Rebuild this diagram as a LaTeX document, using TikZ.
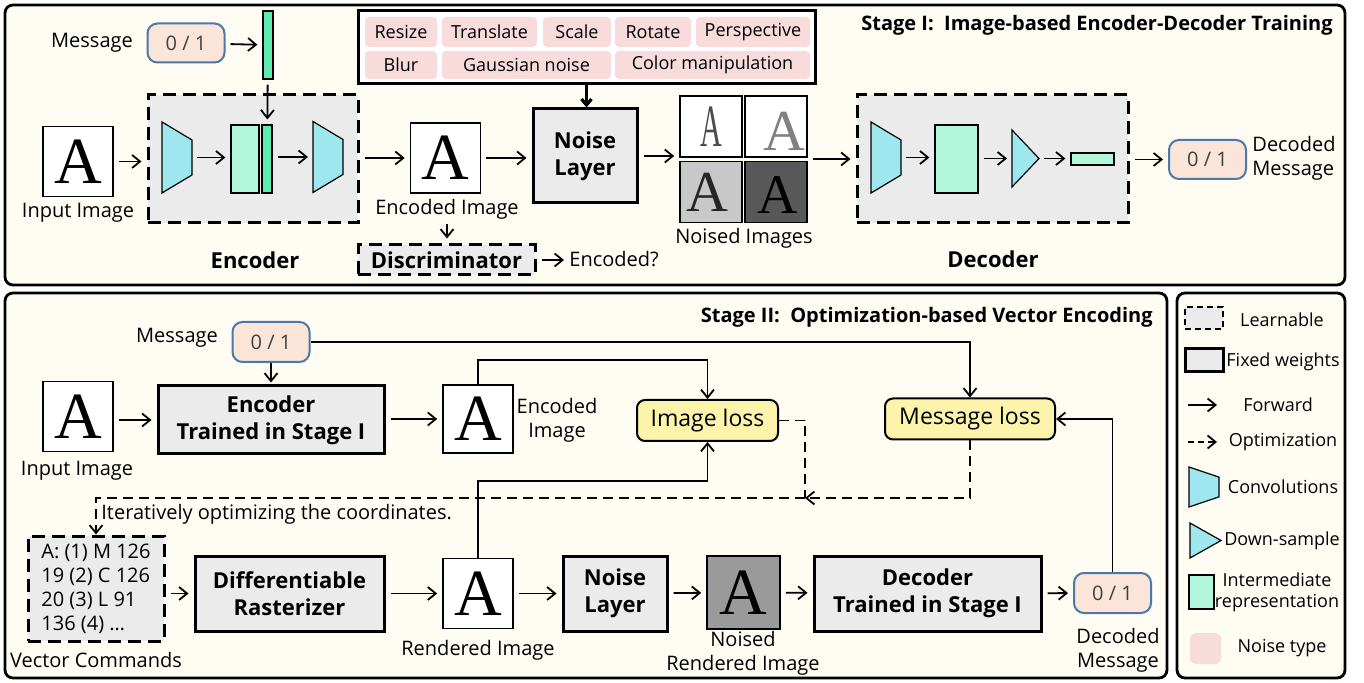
\documentclass[tikz,border=0pt]{standalone}
\usepackage{fontspec}
\usepackage{graphicx}
\setmainfont{Open Sans}
\newfontfamily\glyphfont{Liberation Serif}
\usetikzlibrary{arrows.meta}
\usetikzlibrary{calc}

\definecolor{panelbg}{HTML}{FFFCF3}
\definecolor{boxgray}{HTML}{EBEBEB}
\definecolor{convcyan}{HTML}{9EE7EE}
\definecolor{replight}{HTML}{B2F7DC}
\definecolor{repdark}{HTML}{5EEBB0}
\definecolor{noisepink}{HTML}{F8DCDC}
\definecolor{msgfill}{HTML}{FAE5D8}
\definecolor{msgline}{HTML}{4A78A8}
\definecolor{lossfill}{HTML}{FCF4AA}
\definecolor{cellgray}{HTML}{C8C8C8}
\definecolor{celldark}{HTML}{585858}
\definecolor{cellmid}{HTML}{9A9A9A}

\begin{document}
\begin{tikzpicture}[x=0.5pt, y=-0.5pt,
    every node/.style={font=\fontsize{10}{12}\selectfont},
    frame/.style={draw, line width=1.4pt, rounded corners=4pt, fill=panelbg},
    learnbox/.style={draw, line width=1.5pt, dash pattern=on 6.5pt off 3.5pt, fill=boxgray, inner sep=0pt},
    fixedbox/.style={draw, line width=1.5pt, fill=boxgray, align=center, inner sep=0pt, font=\bfseries\fontsize{11}{13.5}\selectfont},
    imgbox/.style={draw, line width=0.8pt, fill=white, minimum width=35pt, minimum height=35pt, inner sep=0pt, font=\glyphfont\fontsize{33}{33}\selectfont},
    cell/.style={draw, line width=0.8pt, minimum width=31pt, minimum height=30.5pt, inner sep=0pt},
    noised/.style n args={5}{fill=#1, path picture={
        \node[inner sep=0pt, text=#2, font=\glyphfont\fontsize{#5}{#5}\selectfont]
          at ([xshift=#3, yshift=#4]path picture bounding box.center) {A};}},
    msgbox/.style={draw=msgline, line width=1pt, fill=msgfill, rounded corners=5pt, minimum width=38.5pt, minimum height=19.5pt, inner sep=0pt, text=black!75},
    lossbox/.style={draw, line width=1pt, fill=lossfill, rounded corners=4pt, minimum height=20.5pt, inner sep=0pt, font=\fontsize{11.5}{13}\selectfont},
    ntype/.style={fill=noisepink, rounded corners=2pt, minimum height=15pt, inner sep=0pt, font=\fontsize{9}{11}\selectfont},
    rep/.style={draw, line width=0.6pt, fill=replight, inner sep=0pt},
    bar/.style={draw, line width=0.6pt, fill=repdark, inner sep=0pt},
    lbl/.style={align=center, inner sep=0pt},
    legtext/.style={align=center, inner sep=0pt, font=\fontsize{9}{10.5}\selectfont},
    head/.style={font=\bfseries\fontsize{11}{13}\selectfont, inner sep=0pt},
    title/.style={font=\bfseries\fontsize{10}{12}\selectfont, inner sep=0pt},
    fwd/.style={-{Straight Barb[length=4pt,width=6.5pt]}, line width=0.9pt},
    gap/.style={shorten <=2.5pt, shorten >=2.5pt},
    opt/.style={fwd, dash pattern=on 5pt off 3pt},
    conv/.pic={
      \draw[line width=0.6pt, fill=convcyan] (-15,-35.5) -- (15,-17.5) -- (15,17.5) -- (-15,35.5) -- cycle;
      \coordinate (-w) at (-15,0);
      \coordinate (-e) at (15,0);},
    down/.pic={
      \draw[line width=0.6pt, fill=convcyan] (-13.5,-28.5) -- (13.5,0) -- (-13.5,28.5) -- cycle;
      \coordinate (-w) at (-13.5,0);
      \coordinate (-e) at (13.5,0);}]

\useasboundingbox (0,0) rectangle (1364,683);
\fill[white] (0,0) rectangle (1364,683);

% Stage I
\draw[frame] (5,5) rectangle (1345,285);
\node[title, anchor=east] (titleA) at (1333,25) {Stage I:~~Image-based Encoder-Decoder Training};

\node[lbl] (msglblA) at (92,43) {Message};
\node[msgbox] (msgA) at (186,43) {0 / 1};
\node[bar, minimum width=5pt, minimum height=34pt] (barA) at (268,45) {};
\draw[fwd,gap] (msgA) -- (barA);

% encoder
\node[learnbox, minimum width=105pt, minimum height=64pt] (encA) at (253,159) {};
\node[head] (enclblA) at (255,260) {Encoder};
\node[imgbox] (inA) at (78,161.5) {A};
\node[lbl] (inlblA) at (78,213) {Input Image};
\draw[fwd,gap] (inA.east) -- (inA.east -| encA.west);
\pic (cvA) at (177,157.5) {conv};
\node[rep, minimum width=14pt, minimum height=34pt] (repA) at (245,159) {};
\node[bar, minimum width=5pt, minimum height=34pt] (barB) at (267,159) {};
\pic (cvB) at (328,157) {conv};
\draw[fwd,gap] (cvA-e) -- (cvA-e -| repA.west);
\draw[fwd,gap] (barA) -- (barB);
\draw[fwd,gap] (barB.east |- cvB-w) -- (cvB-w);

\node[imgbox] (encimgA) at (445.5,158) {A};
\draw[fwd,gap] (encA.east |- encimgA) -- (encimgA);
\node[lbl] (enclblB) at (447,209) {Encoded Image};
\node[learnbox, minimum width=88.5pt, minimum height=15pt, font=\bfseries\fontsize{11}{13}\selectfont] (discA) at (446.5,260) {Discriminator};
\draw[fwd,gap] (enclblB.south) -- (enclblB.south |- discA.north);
\node[lbl, anchor=west] (encq) at (569,259) {Encoded?};
\draw[fwd,gap] (discA.east) -- (discA.east -| encq.west);

% noise layer
\node[fixedbox, minimum width=52pt, minimum height=47pt] (noiseA) at (585,156) {Noise\\Layer};
\draw[fwd,gap] (encimgA.east) -- (encimgA.east -| noiseA.west);
\node[draw, line width=1.5pt, fill=white, minimum width=228.5pt, minimum height=36.5pt, inner sep=0pt] (types) at (586.5,47.5) {};
\node[ntype, minimum width=36pt] (tyA) at (401,32) {Resize};
\node[ntype, minimum width=47.5pt] (tyB) at (489.5,32) {Translate};
\node[ntype, minimum width=34pt] (tyC) at (577,32) {Scale};
\node[ntype, minimum width=38pt] (tyD) at (653,32) {Rotate};
\node[ntype, minimum width=57pt] (tyE) at (753,32) {Perspective};
\node[ntype, minimum width=36pt, minimum height=14pt] (tyF) at (401,65) {Blur};
\node[ntype, minimum width=84.5pt, minimum height=14pt] (tyG) at (526.5,65) {Gaussian noise};
\node[ntype, minimum width=97.5pt, minimum height=14pt] (tyH) at (712.5,65) {Color manipulation};
\draw[-{Straight Barb[length=3pt,width=5pt]}, line width=1.6pt] (types.south) -- (types.south |- noiseA.north);

% noised images
\node[cell, fill=white, text=black!70, font=\glyphfont\fontsize{30}{30}\selectfont] (nsdA) at (711,126.5) {\scalebox{0.5}[1]{A}};
\node[cell, noised={white}{black!50}{4pt}{-2.5pt}{29}] (nsdB) at (776,126.5) {};
\node[cell, noised={cellgray}{black!85}{-2pt}{0pt}{29}] (nsdC) at (711,192) {};
\node[cell, noised={celldark}{black}{1pt}{-1.5pt}{28}] (nsdD) at (776,192) {};
\node[lbl] (nsdlbl) at (744,238) {Noised Images};
\draw[fwd,gap] (noiseA.east) -- (noiseA.east -| nsdA.west);

% decoder
\node[learnbox, minimum width=135.5pt, minimum height=64pt] (decA) at (992.5,159) {};
\draw[fwd,gap] (nsdB.east |- decA.west) -- (decA.west);
\node[head] (declblA) at (993,259) {Decoder};
\pic (cvC) at (886,157.5) {conv};
\node[rep, minimum width=21.5pt, minimum height=34pt] (repB) at (956.5,159) {};
\pic (dsA) at (1025.5,158.5) {down};
\node[rep, minimum width=21.5pt, minimum height=6pt] (vecA) at (1092.5,159) {};
\draw[fwd,gap] (cvC-e) -- (cvC-e -| repB.west);
\draw[fwd,gap] (repB.east |- dsA-w) -- (dsA-w);
\draw[fwd,gap] (dsA-e) -- (dsA-e -| vecA.west);
\node[msgbox] (msgB) at (1207.5,159.5) {0 / 1};
\draw[fwd,gap] (decA.east |- msgB) -- (msgB);
\node[lbl, anchor=west, align=left] (decmsgA) at (1252,158) {Decoded\\Message};

% Stage II
\draw[frame] (5,293) rectangle (1167,678);
\node[title, anchor=east] (titleB) at (1153,317) {Stage II:~~Optimization-based Vector Encoding};

\node[lbl] (msglblB) at (177,338) {Message};
\node[msgbox, minimum height=20pt] (msgC) at (271,342) {0 / 1};
\node[imgbox] (inB) at (78,416.5) {A};
\node[lbl] (inlblB) at (77,471) {Input Image};
\node[fixedbox, minimum width=113pt, minimum height=34pt] (encB) at (271,420) {Encoder\\Trained in Stage I};
\draw[fwd, shorten >=1pt] (msgC) -- (encB);
\draw[fwd,gap] (inB.east |- encB) -- (encB);
\node[imgbox, minimum height=34pt] (encimgB) at (478,419) {A};
\draw[fwd,gap] (encB.east |- encimgB) -- (encimgB);
\node[lbl] (enclblC) at (557,420) {Encoded\\Image};
\node[lossbox, minimum width=70.5pt] (imgloss) at (707.5,420.5) {Image loss};
\node[lossbox, minimum width=85pt] (msgloss) at (970,419) {Message loss};
\draw[fwd] (encimgB.north) -- ++(0,-24) -| (imgloss.north);
\draw[fwd] (msgC.east) -| (msgloss.north);

\node[imgbox] (rendB) at (478,593.5) {A};
\node[lbl] (rendlbl) at (478,650) {Rendered Image};
\draw[fwd] (rendB.north) -- ++(0,-77) -| (imgloss.south);

\node[learnbox, minimum width=68pt, minimum height=52.5pt, align=left] (vcmd) at (96,588.5) {A: (1) M 126\\19 (2) C 126\\20 (3) L 91\\136 (4) \dots};
\node[lbl] (vcmdlbl) at (96,660) {Vector Commands};
\node[fixedbox, minimum width=94.5pt, minimum height=37.5pt] (rast) at (289.5,593.5) {Differentiable\\Rasterizer};
\draw[fwd,gap] (vcmd.east |- rast) -- (rast);
\draw[fwd,gap] (rast) -- (rendB);
\node[fixedbox, minimum width=52pt, minimum height=37.5pt] (noiseB) at (615,593.5) {Noise\\Layer};
\draw[fwd,gap] (rendB) -- (noiseB);
\node[cell, noised={cellmid}{black}{0pt}{0pt}{33}, minimum width=36.5pt, minimum height=36.5pt] (nrend) at (743.5,592.5) {};
\node[lbl] (nrendlbl) at (743,653) {Noised\\Rendered Image};
\draw[fwd,gap] (noiseB) -- (nrend);
\node[fixedbox, minimum width=113.5pt, minimum height=37.5pt] (decB) at (927.5,593.5) {Decoder\\Trained in Stage I};
\draw[fwd,gap] (nrend) -- (decB);
\node[msgbox, minimum height=20pt] (msgD) at (1112.5,593) {0 / 1};
\draw[fwd,gap] (decB) -- (msgD);
\node[lbl] (decmsgB) at (1118,650) {Decoded\\Message};
\draw[fwd] (msgD.north) |- (msgloss.east);

% optimization loop
\coordinate (optj) at (805,498);
\draw[opt] (msgloss.south) |- (optj);
\draw[opt, -] (imgloss.east) -| (optj);
\draw[opt] (optj) -| (vcmd.north);
\node[lbl, anchor=west] (iterlbl) at (101,514) {Iteratively optimizing the coordinates.};

% legend
\draw[frame] (1177,293) rectangle (1345,678);
\node[learnbox, line width=1.2pt, dash pattern=on 3pt off 2pt, minimum width=19pt, minimum height=11pt] (lgA) at (1204,318) {};
\node[legtext] (lgAt) at (1282,320) {Learnable};
\node[fixedbox, minimum width=19pt, minimum height=11.5pt] (lgB) at (1204,360.5) {};
\node[legtext] (lgBt) at (1283,362) {Fixed weights};
\coordinate (lgC1) at (1188,405);
\coordinate (lgC2) at (1217,405);
\draw[fwd] (lgC1) -- (lgC2);
\node[legtext] (lgCt) at (1278,405) {Forward};
\coordinate (lgD1) at (1188,442);
\coordinate (lgD2) at (1217,442);
\draw[fwd, dash pattern=on 3pt off 2pt] (lgD1) -- (lgD2);
\node[legtext] (lgDt) at (1283,442) {Optimization};
\pic[yscale=0.563] (lgE) at (1204,487) {conv};
\node[legtext] (lgEt) at (1283,487) {Convolutions};
\pic[xscale=1.15, yscale=0.614] (lgF) at (1205.5,540.5) {down};
\node[legtext] (lgFt) at (1282,541) {Down-sample};
\node[rep, minimum width=12.5pt, minimum height=17pt] (lgG) at (1201.5,592) {};
\node[legtext] (lgGt) at (1277,592) {Intermediate\\representation};
\node[ntype, minimum width=15.5pt, minimum height=15.5pt, rounded corners=3pt] (lgH) at (1205.5,648.5) {};
\node[legtext] (lgHt) at (1282,648) {Noise type};
\end{tikzpicture}
\end{document}
